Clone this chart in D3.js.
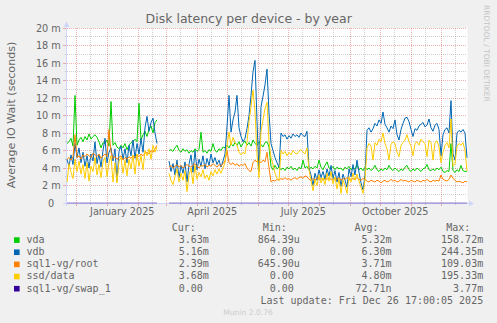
<!DOCTYPE html>
<html><head><meta charset="utf-8">
<script src="https://cdn.jsdelivr.net/npm/d3@7"></script>
<style>
html,body{margin:0;padding:0;background:#f0f0f0;}
svg{display:block;}
text{font-family:"DejaVu Sans",sans-serif;fill:#666666;}
.mono{font-family:"DejaVu Sans Mono",monospace;font-size:10px;fill:#666666;}
</style></head><body>
<svg id="c" width="497" height="323"></svg>
<script>
const seriesNames = ["vda","vdb","sql1-vg/root","ssd/data","sql1-vg/swap_1"];
const seriesColors = ["#00cc00","#0066b3","#ff8000","#ffcc00","#330099"];
// values in milliseconds, one sample every 2 days, first sample at graph start
const vda = [6.8,7.0,7.4,6.5,12.3,6.6,7.2,7.5,7.0,7.6,7.2,7.9,7.3,7.6,7.8,7.5,7.0,6.3,6.9,6.8,7.2,6.5,11.6,6.6,6.9,6.4,6.2,6.6,6.3,6.8,6.1,6.6,6.9,7.0,7.3,7.0,11.4,7.2,7.8,8.2,7.6,8.4,8.8,8.0,9.2,9.5,
 null,null,null,null,null,
 6.0,6.1,5.9,6.3,6.6,6.0,5.8,6.2,5.9,6.1,5.7,6.0,5.8,6.2,5.9,6.1,8.1,5.8,6.0,5.7,6.1,5.9,6.8,6.0,5.8,6.2,6.0,6.4,6.3,
 6.6,6.3,6.8,6.5,6.9,6.6,7.0,6.4,6.8,7.1,6.6,6.9,6.5,7.2,6.8,6.6,7.0,6.7,6.4,6.9,7.0,6.4,
 4.2,3.8,4.3,3.9,4.1,3.8,4.0,3.7,4.1,3.9,4.2,3.8,4.0,3.7,4.1,3.9,4.9,4.0,4.2,
 3.8,4.1,3.9,4.2,4.0,4.9,4.1,3.8,4.3,4.7,4.0,3.9,4.2,3.8,4.1,3.9,4.0,3.7,4.1,3.9,4.2,3.8,4.0,3.9,4.3,3.8,4.0,3.7,4.1,
 3.8,4.0,3.7,3.9,4.3,3.8,3.6,3.9,3.7,4.0,3.8,4.3,3.9,3.7,4.0,3.8,3.6,3.9,3.7,4.1,4.3,3.8,3.6,3.9,3.7,4.0,3.8,3.6,3.9,4.0,4.4,3.8,3.7,3.9,3.7,4.0,3.8,4.1,3.6,3.5,3.7,3.6,6.8,3.7,3.5,3.8,3.6,4.3,3.7,3.6,3.63];
const vdb = [5.0,4.2,5.5,4.4,6.8,5.2,6.3,4.6,5.8,4.2,5.4,4.0,5.6,4.8,7.0,4.5,5.6,4.1,6.0,7.4,4.6,5.8,6.3,4.8,6.2,2.5,5.9,6.5,5.0,6.2,4.6,6.6,5.4,7.2,5.1,6.8,5.6,7.4,5.8,8.6,9.9,8.2,9.2,9.7,8.0,6.8,
 null,null,null,null,null,
 4.8,3.6,4.5,3.2,4.9,2.9,4.3,3.4,4.7,2.4,4.4,5.5,3.5,6.0,3.8,5.0,4.2,5.4,3.9,5.1,4.3,5.6,4.6,5.2,4.4,4.9,4.1,4.8,5.6,
 8.7,12.3,8.1,9.5,10.4,12.3,8.6,7.6,7.0,7.4,8.5,10.0,12.3,15.0,16.3,9.3,3.6,11.0,12.2,13.5,15.3,10.3,
 6.8,6.0,5.2,4.6,4.1,8.0,7.6,7.8,7.3,7.7,7.4,7.9,7.6,7.8,7.5,8.0,7.7,7.6,8.2,
 4.0,3.2,2.0,3.4,2.6,3.8,2.9,3.6,2.7,3.9,3.1,4.3,2.8,3.7,2.4,3.5,1.9,3.3,2.6,1.8,3.9,3.0,4.4,3.2,4.9,3.5,2.3,1.5,3.2,
 8.3,8.6,8.1,8.5,9.1,8.8,9.5,9.1,10.4,9.0,8.6,8.1,8.8,8.5,9.5,7.8,7.2,8.4,9.1,9.7,9.8,9.3,8.4,7.6,8.5,8.3,8.8,9.0,9.2,8.7,8.9,9.6,8.6,8.2,8.9,9.1,8.4,5.4,7.8,8.4,8.6,8.0,11.7,5.6,4.9,8.0,8.3,8.1,8.4,8.0,5.16];
const root = [5.0,5.2,4.9,5.3,7.8,5.2,5.4,5.0,5.5,5.3,5.6,5.4,5.2,5.7,5.5,5.3,5.6,5.1,5.4,5.6,5.3,8.4,5.8,5.1,5.3,5.0,5.2,5.4,4.9,5.2,5.0,5.3,5.1,5.4,5.2,5.5,5.3,5.6,5.4,5.7,5.8,5.6,6.0,5.8,6.2,6.6,
 null,null,null,null,null,
 4.1,4.3,4.0,4.2,4.4,4.1,4.3,4.0,4.2,4.4,4.2,4.1,4.3,4.5,4.2,4.0,4.3,4.2,4.4,4.1,4.3,4.2,4.5,4.3,4.1,4.4,4.2,4.5,4.8,
 6.0,4.6,4.4,4.6,4.3,4.5,4.2,4.4,4.3,4.5,4.0,3.7,3.6,4.6,4.9,4.7,4.8,4.6,4.9,4.7,5.8,4.0,
 2.4,2.6,2.5,2.7,2.6,2.8,2.7,2.9,2.7,2.8,2.6,2.8,2.9,2.7,2.9,3.0,2.8,3.1,3.0,
 2.7,2.6,2.8,2.6,2.9,2.7,2.8,2.6,2.8,2.7,2.9,2.7,2.6,2.8,2.7,2.9,2.6,2.8,2.7,2.9,2.7,2.6,2.8,2.7,2.9,2.7,2.6,2.8,2.7,
 2.5,2.4,2.6,2.5,2.4,2.6,2.5,2.3,2.5,2.6,2.4,2.5,2.7,2.5,2.6,2.4,2.5,2.7,2.5,2.6,2.5,2.4,2.6,2.5,2.4,2.6,2.5,2.4,2.6,2.5,2.7,2.5,2.4,2.6,2.5,2.6,2.5,3.2,2.7,2.6,2.5,2.7,3.2,2.8,2.6,2.4,2.5,2.4,2.3,2.5,2.39];
const ssd = [2.4,4.5,3.5,2.8,5.0,3.6,4.8,3.3,4.4,2.8,4.6,2.5,4.2,3.6,5.2,3.2,4.4,2.9,4.7,5.2,3.0,4.6,5.4,2.4,4.6,2.3,4.8,5.2,3.4,4.9,3.1,5.0,3.9,5.5,3.3,5.6,4.2,5.4,3.8,6.0,5.4,6.2,5.0,6.6,5.8,6.4,
 null,null,null,null,null,
 3.4,2.6,2.1,3.0,3.9,2.4,3.4,2.6,3.7,1.3,3.2,4.0,2.2,4.3,2.7,3.5,3.0,3.8,2.8,3.2,2.6,3.6,3.1,3.8,3.3,3.9,3.4,4.0,4.6,
 6.6,8.1,6.6,7.5,6.9,6.6,5.8,5.5,5.8,5.6,7.0,9.3,11.0,12.9,10.5,5.5,2.9,8.2,9.5,10.8,11.5,7.0,
 5.2,4.4,3.4,2.8,2.6,6.0,5.6,5.9,5.4,5.8,5.5,6.0,5.7,5.6,5.9,6.1,5.8,5.6,6.3,
 3.8,2.6,1.4,2.7,2.0,3.2,2.3,2.9,2.1,3.4,2.5,3.6,2.2,3.0,1.6,2.8,1.1,2.6,2.0,1.1,3.0,2.4,3.4,2.6,3.3,2.5,1.8,1.1,2.6,
 6.3,6.8,6.5,4.9,6.9,6.6,7.3,7.0,8.0,6.8,6.2,4.9,6.7,7.0,6.8,5.8,5.3,6.6,6.9,7.2,7.8,7.0,6.5,5.4,6.8,7.0,6.6,7.3,7.0,6.8,5.3,7.2,6.9,4.9,6.9,7.1,6.4,4.6,5.8,6.6,6.9,6.3,9.6,4.2,4.5,6.5,6.8,6.6,6.9,6.0,3.68];
const swap = [0,0,0,0,0,0,0,0,0,0,0,0,0,0,0,0,0,0,0,0,0,0,0,0,0,0,0,0,0,0,0,0,0,0,0,0,0,0,0,0,0,0,0,0,0,0,
 null,null,null,null,null,
 0,0,0,0,0,0,0,0,0,0,0,0,0,0,0,0,0,0,0,0,0,0,0,0,0,0,0,0,0,0,
 0,0,0,0,0,0,0,0,0,0,0,0,0,0,0,0,0,0,0,0,0,0,0,0,0,0,0,0,0,0,
 0,0,0,0,0,0,0,0,0,0,0,0,0,0,0,0,0,0,0,0,0,0,0,0,0,0,0,0,0,0,
 0,0,0,0,0,0,0,0,0,0,0,0,0,0,0,0,0,0,0,0,0,0,0,0,0,0,0,0,0,0,
 0,0,0,0,0,0,0,0,0,0,0,0,0,0,0,0,0,0,0,0,0,0,0,0,0,0,0,0,0,0];
const yTickValues = [0,2,4,6,8,10,12,14,16,18,20];
const yTickLabels = ["0","2 m","4 m","6 m","8 m","10 m","12 m","14 m","16 m","18 m","20 m"];
const legendHeaders = ["Cur:","Min:","Avg:","Max:"];
const legendCur = ["3.63m","5.16m","2.39m","3.68m","0.00"];
const legendMin = ["864.39u","0.00","645.90u","0.00","0.00"];
const legendAvg = ["5.32m","6.30m","3.71m","4.80m","72.71n"];
const legendMax = ["158.72m","244.35m","109.03m","195.33m","3.77m"];
const titleText = "Disk latency per device - by year";
const yTitle = "Average IO Wait (seconds)";
const lastUpdate = "Last update: Fri Dec 26 17:00:05 2025";

const svg = d3.select("#c");
const endDate = new Date(2025,11,26,17,0,5);
const startDate = d3.timeDay.offset(endDate,-400);
const x = d3.scaleTime().domain([startDate,endDate]).range([67,467]);
const y = d3.scaleLinear().domain([0,20]).range([203,28]);
const dates = vda.map((_,i)=>d3.timeDay.offset(startDate,2*i));

svg.append("rect").attr("width",497).attr("height",323).attr("fill","#f0f0f0");
svg.append("rect").attr("x",66.5).attr("y",28).attr("width",401).attr("height",175).attr("fill","#ffffff");

const gridG = svg.append("g").attr("shape-rendering","crispEdges");
const GRID = "rgba(130,130,130,0.38)", MGRID = "rgba(225,70,70,0.42)";
// horizontal minor
for (let v=1; v<20; v+=2){
  const yy = Math.floor(y(v))+0.5;
  gridG.append("line").attr("x1",67).attr("x2",467).attr("y1",yy).attr("y2",yy)
    .attr("stroke",GRID).attr("stroke-dasharray","1,1");
  gridG.append("line").attr("x1",65).attr("x2",67).attr("y1",yy).attr("y2",yy).attr("stroke",GRID);
}
yTickValues.filter(v=>v>0).forEach(v=>{
  const yy = Math.floor(y(v))+0.5;
  gridG.append("line").attr("x1",67).attr("x2",467).attr("y1",yy).attr("y2",yy)
    .attr("stroke",MGRID).attr("stroke-dasharray","1,1");
  gridG.append("line").attr("x1",63).attr("x2",67).attr("y1",yy).attr("y2",yy).attr("stroke",MGRID);
});
const months = d3.timeMonth.range(startDate,endDate);
const mids = d3.timeMonth.range(d3.timeMonth.offset(startDate,-1),endDate)
  .map(m=>new Date(+m + 14.5*864e5)).filter(d=>d>startDate && d<endDate);
mids.forEach(d=>{
  const xx = Math.floor(x(d))+0.5;
  gridG.append("line").attr("x1",xx).attr("x2",xx).attr("y1",28).attr("y2",203)
    .attr("stroke",GRID).attr("stroke-dasharray","1,1");
  gridG.append("line").attr("x1",xx).attr("x2",xx).attr("y1",203).attr("y2",205).attr("stroke",GRID);
});
months.forEach(d=>{
  const xx = Math.floor(x(d))+0.5;
  gridG.append("line").attr("x1",xx).attr("x2",xx).attr("y1",28).attr("y2",203)
    .attr("stroke",MGRID).attr("stroke-dasharray","1,1");
  gridG.append("line").attr("x1",xx).attr("x2",xx).attr("y1",203).attr("y2",206).attr("stroke",MGRID);
});

// axes
const AX = "#CFD6F8";
svg.append("line").attr("x1",63).attr("x2",470).attr("y1",203.5).attr("y2",203.5).attr("stroke",AX);
svg.append("line").attr("x1",66.5).attr("x2",66.5).attr("y1",206).attr("y2",25).attr("stroke",AX);
svg.append("path").attr("d","M469,200.5L474,203.5L469,206.5Z").attr("fill",AX);
svg.append("path").attr("d","M63.5,27L66.5,21.5L69.5,27Z").attr("fill",AX);

// series
const line = d3.line().defined(d=>d[1]!=null).x(d=>x(d[0])).y(d=>y(d[1]));
const allSeries = [vda,vdb,root,ssd];
allSeries.forEach((s,k)=>{
  svg.append("path").attr("d",line(s.map((v,i)=>[dates[i],v])))
    .attr("fill","none").attr("stroke",seriesColors[k]).attr("stroke-width",1)
    .attr("stroke-linejoin","round");
});
svg.append("path").attr("d",line(swap.map((v,i)=>[dates[i],v])))
  .attr("fill","none").attr("stroke",seriesColors[4]).attr("stroke-opacity",0.5).attr("stroke-width",1.2);

// texts
svg.append("text").attr("x",248.7).attr("y",22.5).attr("text-anchor","middle")
  .style("font-size","12.5px").text(titleText);
svg.append("text").attr("transform","translate(14.5,115) rotate(-90)").attr("text-anchor","middle")
  .style("font-size","11.1px").text(yTitle);
yTickValues.forEach((v,i)=>{
  svg.append("text").attr("x", v===0 ? 54.2 : 60.8).attr("y",y(v)+3.5).attr("text-anchor","end")
    .style("font-size","9.7px").text(yTickLabels[i]);
});
const fmt = d3.timeFormat("%B %Y");
months.filter(m=>m.getMonth()%3===0).forEach(m=>{
  const d = new Date(+m + 15*864e5);
  svg.append("text").attr("x",x(d)).attr("y",215.2).attr("text-anchor","middle")
    .style("font-size","9.7px").text(fmt(m));
});
svg.append("text").attr("transform","translate(484.2,5) rotate(90)")
  .style("font-size","7.5px").style("fill","#c4c4c4").text("RRDTOOL / TOBI OETIKER");

// legend
const headerX = [171.8,262.8,354.5,446.2];
legendHeaders.forEach((h,i)=>svg.append("text").attr("class","mono").attr("x",headerX[i]).attr("y",230.8).text(h));
const colEnd = [208.8,299.8,391.5,483.2];
const cols = [legendCur,legendMin,legendAvg,legendMax];
seriesNames.forEach((n,k)=>{
  const by = 242.9 + 12.15*k;
  svg.append("rect").attr("x",14).attr("y",by-5.6).attr("width",5.6).attr("height",5.6).attr("fill",seriesColors[k]);
  svg.append("text").attr("class","mono").attr("x",26.4).attr("y",by).text(n);
  cols.forEach((c,j)=>{
    const s = c[k];
    const xe = /[0-9]$/.test(s) ? colEnd[j]-6.02 : colEnd[j];
    svg.append("text").attr("class","mono").attr("x",xe).attr("y",by).attr("text-anchor","end").text(s);
  });
});
svg.append("text").attr("class","mono").attr("x",483.2).attr("y",303.5).attr("text-anchor","end").text(lastUpdate);
svg.append("text").attr("x",248).attr("y",314.5).attr("text-anchor","middle")
  .style("font-size","7.6px").style("fill","#cccccc").text("Munin 2.0.76");
</script>
</body></html>
